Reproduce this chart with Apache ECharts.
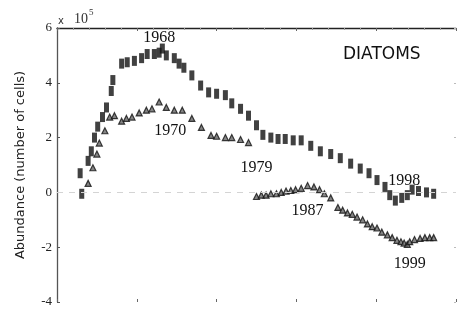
<!DOCTYPE html>
<html><head><meta charset="utf-8">
<script src="https://cdn.jsdelivr.net/npm/echarts@6/dist/echarts.min.js"></script>
<style>html,body{margin:0;padding:0;background:#fff}#c{width:459px;height:326px}</style>
</head><body><div id="c"></div>
<script>
// Squares series (upper curve)
const yearsA = [1957.9,1958.1,1958.9,1959.3,1959.7,1960.1,1960.7,1961.2,1961.8,1962.0,1963.1,1963.8,1964.7,1965.6,1966.3,1967.2,1967.8,1968.2,1968.7,1969.7,1970.3,1970.9,1971.9,1973.0,1974.0,1975.0,1976.1,1976.9,1978.0,1979.0,1980.0,1980.8,1981.8,1982.7,1983.6,1984.6,1985.6,1986.8,1988.0,1989.3,1990.5,1991.8,1993.0,1994.1,1995.1,1996.1,1996.7,1997.4,1998.2,1998.9,1999.5,2000.3,2001.3,2002.2];
const valuesA = [0.7,-0.05,1.15,1.5,2.0,2.4,2.75,3.1,3.7,4.1,4.7,4.75,4.8,4.9,5.05,5.05,5.1,5.25,5.0,4.9,4.7,4.55,4.27,3.9,3.65,3.6,3.55,3.25,3.05,2.8,2.45,2.1,2.0,1.95,1.95,1.9,1.9,1.7,1.5,1.4,1.25,1.05,0.87,0.7,0.45,0.2,-0.1,-0.3,-0.2,-0.1,0.1,0.05,0.0,-0.05];
// Triangles series, first segment (1958-1979)
const yearsB1 = [1958.9,1959.5,1960.0,1960.3,1961.0,1961.6,1962.2,1963.1,1963.7,1964.4,1965.3,1966.2,1966.9,1967.8,1968.7,1969.7,1970.7,1971.9,1973.1,1974.3,1975.0,1976.1,1976.9,1978.0,1979.0];
const valuesB1 = [0.33,0.9,1.4,1.8,2.25,2.75,2.8,2.6,2.7,2.75,2.9,3.0,3.05,3.3,3.1,3.0,3.0,2.7,2.37,2.08,2.05,2.0,2.0,1.93,1.82];
// Triangles series, second segment (1980-2002)
const yearsB2 = [1980.0,1980.6,1981.2,1981.8,1982.5,1983.1,1983.7,1984.3,1984.9,1985.6,1986.4,1987.2,1987.9,1988.5,1989.3,1990.2,1990.8,1991.4,1992.0,1992.6,1993.3,1993.9,1994.5,1995.1,1995.7,1996.4,1997.0,1997.6,1998.1,1998.5,1998.9,1999.2,1999.8,2000.5,2001.1,2001.7,2002.2];
const valuesB2 = [-0.15,-0.1,-0.1,-0.05,-0.05,0.0,0.05,0.07,0.1,0.15,0.25,0.2,0.1,-0.05,-0.2,-0.55,-0.65,-0.75,-0.8,-0.9,-1.0,-1.15,-1.25,-1.3,-1.45,-1.55,-1.65,-1.75,-1.8,-1.85,-1.9,-1.8,-1.72,-1.68,-1.65,-1.65,-1.65];
// Year annotations
const noteTexts = ['1968','1970','1979','1987','1998','1999'];
const noteYears = [1967.8,1969.2,1980.0,1986.4,1998.5,1999.2];
const noteValues = [5.66,2.26,0.91,-0.66,0.44,-2.6];
const yTicks = [-4,-2,0,2,4,6];
const xTicks = [1960,1970,1980,1990,2000];

const zip = (a,b)=>a.map((v,i)=>[v,b[i]]);
const serif = 'Liberation Serif';
const chart = echarts.init(document.getElementById('c'));
const opt = {
  animation:false,
  backgroundColor:'#fff',
  grid:{left:57,right:1,top:28,bottom:24},
  xAxis:[{
    type:'value',min:1955,max:2005,interval:10,
    axisLine:{show:false,onZero:false},
    axisTick:{show:true,inside:true,length:3,lineStyle:{color:'#666'}},
    splitLine:{show:false},
    axisLabel:{fontFamily:serif,fontSize:14,color:'#222',margin:5,
      formatter:v=>xTicks.includes(v)?String(v):''}
  },{
    type:'value',min:1955,max:2005,interval:10,position:'top',
    axisLine:{show:true,onZero:false,lineStyle:{color:'#222',width:1.3}},
    axisTick:{show:true,inside:true,length:3,lineStyle:{color:'#666'}},
    minorTick:{show:true,splitNumber:5,length:2,lineStyle:{color:'#999'}},
    axisLabel:{show:false},splitLine:{show:false}
  }],
  yAxis:[{
    type:'value',min:-4,max:6,interval:2,
    name:'Abundance (number of cells)',nameLocation:'middle',nameGap:30,
    nameTextStyle:{fontFamily:'DejaVu Sans',fontSize:13,color:'#222'},
    axisLine:{show:true,onZero:false,lineStyle:{color:'#555',width:1.3}},
    axisTick:{show:true,inside:true,length:3,lineStyle:{color:'#555'}},
    splitLine:{show:false},
    axisLabel:{fontFamily:serif,fontSize:13,color:'#222',margin:5,
      formatter:v=>yTicks.includes(v)?String(v):''}
  },{
    type:'value',min:-4,max:6,interval:2,position:'right',
    axisLine:{show:false,onZero:false},
    axisTick:{show:true,inside:true,length:2,lineStyle:{color:'#bbb'}},
    axisLabel:{show:false},splitLine:{show:false}
  }],
  series:[
    {type:'scatter',data:zip(yearsA,valuesA),symbol:'rect',symbolSize:[5,10],
     itemStyle:{color:'#111'},z:3,
     markLine:{silent:true,symbol:'none',label:{show:false},
       lineStyle:{color:'#d4d4d4',type:[6,6],width:1},data:[{yAxis:0}]}},
    {type:'scatter',data:zip(yearsB1,valuesB1),symbol:'triangle',symbolSize:6,
     itemStyle:{color:'#666',borderColor:'#111',borderWidth:1.2},z:4},
    {type:'scatter',data:zip(yearsB2,valuesB2),symbol:'triangle',symbolSize:6,
     itemStyle:{color:'#666',borderColor:'#111',borderWidth:1.2},z:4}
  ]
};
chart.setOption(opt);
const gfx = noteTexts.map((t,i)=>{
  const p = chart.convertToPixel({xAxisIndex:0,yAxisIndex:0},[noteYears[i],noteValues[i]]);
  return {type:'text',x:p[0],y:p[1],z:10,style:{text:t,fontFamily:serif,fontSize:16,fill:'#111',
    align:'center',verticalAlign:'middle'}};
});
gfx.push({type:'text',left:343,top:46,style:{text:'DIATOMS',fontFamily:'DejaVu Sans',fontSize:17,fill:'#111'}});
gfx.push({type:'text',x:58,y:21,style:{text:'x',fontFamily:'DejaVu Sans',fontSize:10,fill:'#333',verticalAlign:'middle'}});
gfx.push({type:'text',x:74,y:19,style:{text:'10',fontFamily:serif,fontSize:14,fill:'#333',verticalAlign:'middle'}});
gfx.push({type:'text',x:89,y:13,style:{text:'5',fontFamily:serif,fontSize:9,fill:'#333',verticalAlign:'middle'}});
chart.setOption({graphic:gfx});
</script></body></html>
